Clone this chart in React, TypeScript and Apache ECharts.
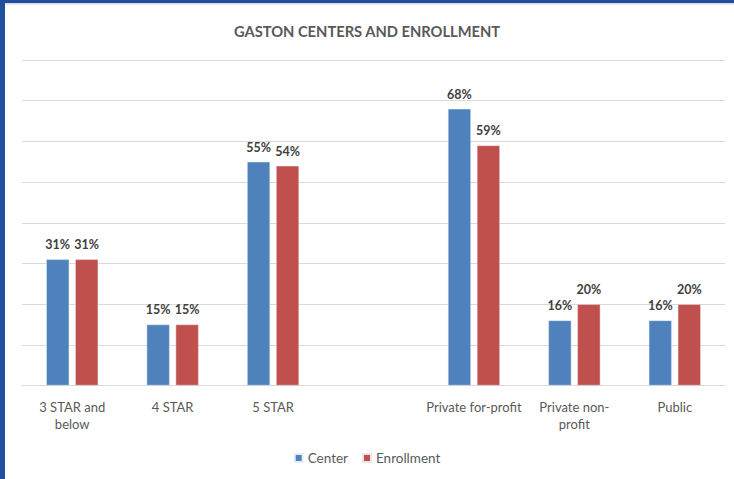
import React, { useEffect, useRef } from "react";
import * as echarts from "echarts";

const title = "GASTON CENTERS AND ENROLLMENT";
const categories = ["3 STAR and\nbelow", "4 STAR", "5 STAR", "", "Private for-profit", "Private non-\nprofit", "Public"];
const centerValues: (number | null)[] = [31, 15, 55, null, 68, 16, 16];
const enrollmentValues: (number | null)[] = [31, 15, 54, null, 59, 20, 20];
const seriesNames = ["Center", "Enrollment"];

const FONT = "Lato, 'Open Sans', sans-serif";

export default function App() {
  const ref = useRef<HTMLDivElement>(null);
  useEffect(() => {
    document.body.style.margin = "0";
    const chart = echarts.init(ref.current!, null, { renderer: "svg" });
    const label = {
      show: true,
      position: "top",
      distance: 8,
      formatter: "{c}%",
      fontFamily: FONT,
      fontWeight: "bold",
      fontSize: 12.5,
      color: "#404040",
    };
    chart.setOption({
      animation: false,
      backgroundColor: "#ffffff",
      textStyle: { fontFamily: FONT },
      title: {
        text: title,
        left: "center",
        top: 18,
        textStyle: { fontFamily: FONT, fontWeight: "bold", fontSize: 14.7, color: "#595959" },
      },
      legend: {
        bottom: 9,
        left: "center",
        itemWidth: 8,
        itemHeight: 8,
        itemGap: 14,
        icon: "rect",
        textStyle: { fontFamily: FONT, fontSize: 13.5, color: "#595959" },
        data: seriesNames,
      },
      grid: { left: 22, right: 9, top: 60, bottom: 93.5 },
      xAxis: {
        type: "category",
        data: categories,
        axisLine: { lineStyle: { color: "#d9d9d9", width: 1 } },
        axisTick: { show: false },
        axisLabel: {
          interval: 0,
          fontFamily: FONT,
          fontSize: 13,
          color: "#595959",
          lineHeight: 17,
          margin: 13,
        },
      },
      yAxis: {
        type: "value",
        min: 0,
        max: 80,
        interval: 10,
        axisLabel: { show: false },
        axisLine: { show: false },
        axisTick: { show: false },
        splitLine: { lineStyle: { color: "#d9d9d9", width: 1 } },
      },
      series: [
        {
          name: seriesNames[0],
          type: "bar",
          data: centerValues,
          barWidth: 23,
          barGap: "26%",
          itemStyle: { color: "#4f81bd", borderColor: "#e8eef7", borderWidth: 0.5 },
          label,
        },
        {
          name: seriesNames[1],
          type: "bar",
          data: enrollmentValues,
          barWidth: 23,
          itemStyle: { color: "#c0504d", borderColor: "#f3e4e4", borderWidth: 0.5 },
          label,
        },
      ],
      graphic: [
        { type: "rect", shape: { x: 0, y: 0, width: 734, height: 3 }, style: { fill: "#1f4f9e" }, z: 100 },
        { type: "rect", shape: { x: 0, y: 0, width: 5, height: 479 }, style: { fill: "#1f4f9e" }, z: 100 },
        { type: "rect", shape: { x: 5, y: 3, width: 729, height: 1.5 }, style: { fill: "#d9d9d9" }, z: 99 },
      ],
    });
    return () => chart.dispose();
  }, []);
  return <div ref={ref} style={{ width: 734, height: 479, position: "absolute", left: 0, top: 0 }} />;
}
